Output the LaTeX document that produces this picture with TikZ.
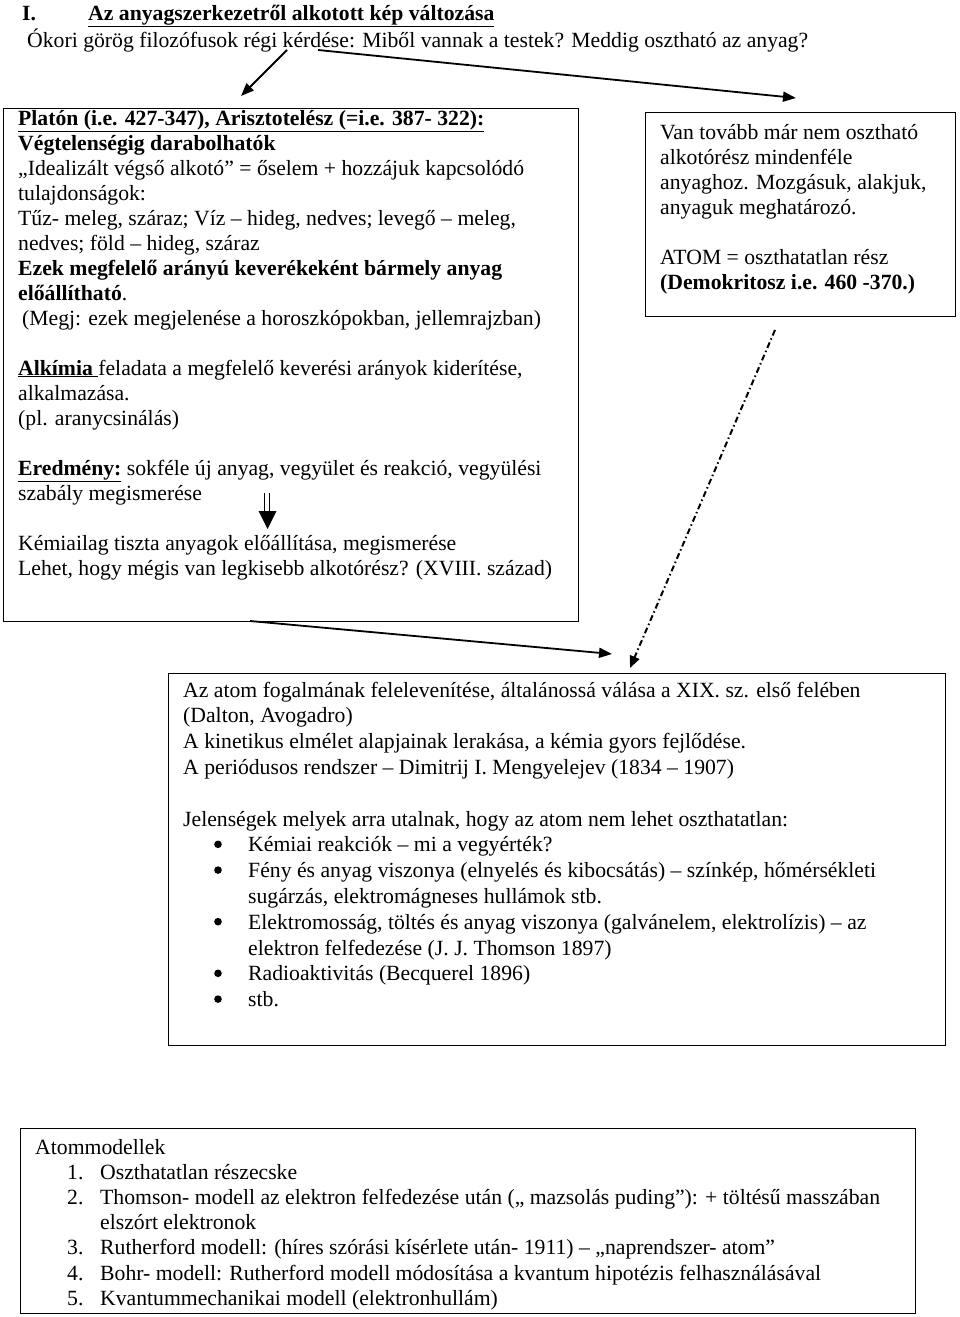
\documentclass[tikz,border=0pt]{standalone}
\usepackage{fontspec}
\setmainfont{Liberation Serif}
\usetikzlibrary{arrows.meta}
\begin{document}
\begin{tikzpicture}[x=1pt,y=-1pt,
  box/.style={draw=black, line width=1.3pt, anchor=north west, inner sep=0pt},
  txt/.style={anchor=base west, inner sep=0pt, font=\fontsize{21.7}{25}\selectfont},
  arr/.style={line width=1.8pt, -{Triangle[length=13pt,width=10pt]}},
  dasharr/.style={line width=2pt, dash pattern=on 6pt off 3pt on 1.5pt off 3pt, -{Triangle[length=12pt,width=10pt]}},
  bulletdot/.style={fill=black},
]
\useasboundingbox (0,0) rectangle (960,1317);

% title
\node[txt] (num) at (22,20) {\textbf{I.}};
\node[txt] (title) at (88,20) {\underline{\textbf{Az anyagszerkezetről alkotott kép változása}}};
\node[txt] (question) at (27,47) {Ókori görög filozófusok régi kérdése: Miből vannak a testek? Meddig osztható az anyag?};

% boxes
\node[box, minimum width=575pt, minimum height=513pt] (leftbox) at (3,108) {};
\node[box, minimum width=310pt, minimum height=204pt] (rightbox) at (645,112) {};
\node[box, minimum width=777pt, minimum height=372pt] (midbox) at (168,673) {};
\node[box, minimum width=895pt, minimum height=185pt] (botbox) at (20,1128) {};

% left box text
\node[txt] (lefttext) at (18,125) {\parbox[t]{558pt}{\fontsize{21.7}{25}\selectfont\raggedright
\underline{\textbf{Platón (i.e. 427-347), Arisztotelész (=i.e. 387- 322):}}\\
\textbf{Végtelenségig darabolhatók}\\
„Idealizált végső alkotó” = őselem + hozzájuk kapcsolódó\\
tulajdonságok:\\
Tűz- meleg, száraz; Víz – hideg, nedves; levegő – meleg,\\
nedves; föld – hideg, száraz\\
\textbf{Ezek megfelelő arányú keverékeként bármely anyag}\\
\textbf{előállítható}.\\
\hspace*{4pt}(Megj: ezek megjelenése a horoszkópokban, jellemrajzban)\\[25pt]
\underline{\textbf{Alkímia }}feladata a megfelelő keverési arányok kiderítése,\\
alkalmazása.\\
(pl. aranycsinálás)\\[25pt]
\underline{\textbf{Eredmény:}} sokféle új anyag, vegyület és reakció, vegyülési\\
szabály megismerése\\[25pt]
Kémiailag tiszta anyagok előállítása, megismerése\\
Lehet, hogy mégis van legkisebb alkotórész? (XVIII. század)}};

% double arrow
\draw[line width=1pt] (264.5,493) -- (264.5,512) (269.5,493) -- (269.5,512);
\fill (258.5,511) -- (276.5,511) -- (267.5,529) -- cycle;

% right box text
\node[txt] (righttext) at (660,139) {\parbox[t]{290pt}{\fontsize{21.7}{25}\selectfont\raggedright
Van tovább már nem osztható\\
alkotórész mindenféle\\
anyaghoz. Mozgásuk, alakjuk,\\
anyaguk meghatározó.\\[25pt]
ATOM = oszthatatlan rész\\
\textbf{(Demokritosz i.e. 460 -370.)}}};

% middle box text
\node[txt] (midtext) at (183,697) {\parbox[t]{760pt}{\fontsize{21.7}{25.8}\selectfont\raggedright
Az atom fogalmának felelevenítése, általánossá válása a XIX. sz. első felében\\
(Dalton, Avogadro)\\
A kinetikus elmélet alapjainak lerakása, a kémia gyors fejlődése.\\
A periódusos rendszer – Dimitrij I. Mengyelejev (1834 – 1907)\\[25.8pt]
Jelenségek melyek arra utalnak, hogy az atom nem lehet oszthatatlan:\\
\hspace*{65pt}Kémiai reakciók – mi a vegyérték?\\
\hspace*{65pt}Fény és anyag viszonya (elnyelés és kibocsátás) – színkép, hőmérsékleti\\
\hspace*{65pt}sugárzás, elektromágneses hullámok stb.\\
\hspace*{65pt}Elektromosság, töltés és anyag viszonya (galvánelem, elektrolízis) – az\\
\hspace*{65pt}elektron felfedezése (J. J. Thomson 1897)\\
\hspace*{65pt}Radioaktivitás (Becquerel 1896)\\
\hspace*{65pt}stb.}};

% bullets
\foreach \n in {6,7,9,11,12}
  \fill[bulletdot] (218, 697+\n*25.8-7.5) circle (3.8pt);

% bottom box text
\node[txt] (bottext) at (35,1154) {\parbox[t]{870pt}{\fontsize{21.7}{25.2}\selectfont\raggedright
Atommodellek\\
\hspace*{32pt}\makebox[33pt][l]{1.}Oszthatatlan részecske\\
\hspace*{32pt}\makebox[33pt][l]{2.}Thomson- modell az elektron felfedezése után („ mazsolás puding”):  + töltésű masszában\\
\hspace*{65pt}elszórt elektronok\\
\hspace*{32pt}\makebox[33pt][l]{3.}Rutherford modell: (híres szórási kísérlete után- 1911) – „naprendszer- atom”\\
\hspace*{32pt}\makebox[33pt][l]{4.}Bohr- modell: Rutherford modell módosítása a kvantum hipotézis felhasználásával\\
\hspace*{32pt}\makebox[33pt][l]{5.}Kvantummechanikai modell (elektronhullám)}};

% connectors
\coordinate (a1s) at (287,50);
\coordinate (a1e) at (241,96);
\coordinate (a2s) at (318,50);
\coordinate (a2e) at (796,98);
\coordinate (a3s) at (250,621);
\coordinate (a3e) at (612,654);
\coordinate (a4s) at (775,330);
\coordinate (a4e) at (630,668);
\draw[arr] (a1s) -- (a1e);
\draw[arr] (a2s) -- (a2e);
\draw[arr] (a3s) -- (a3e);
\draw[dasharr] (a4s) -- (a4e);
\end{tikzpicture}
\end{document}
